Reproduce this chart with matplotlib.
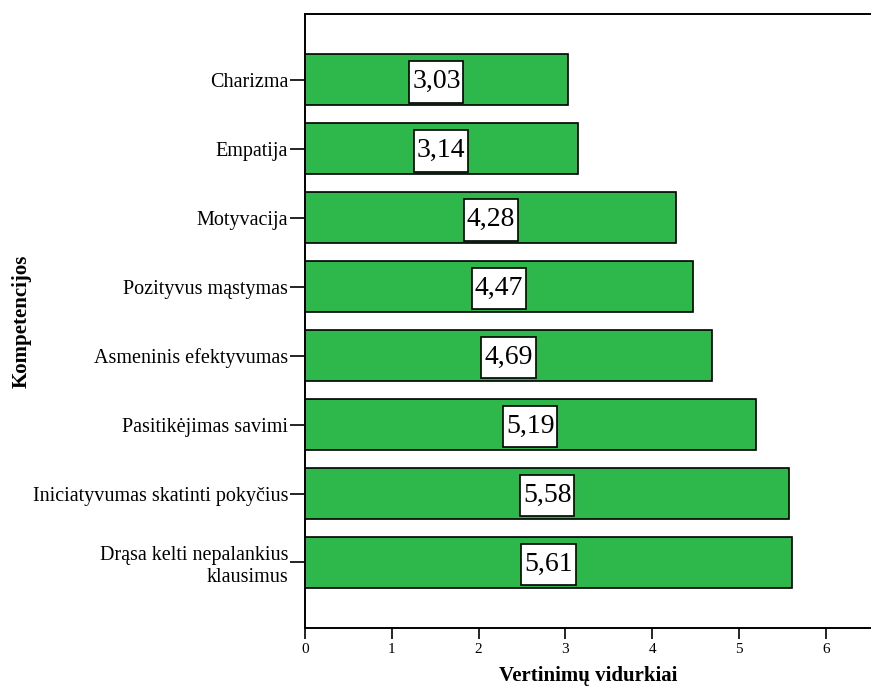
import matplotlib
matplotlib.use("agg")
import matplotlib.pyplot as plt
from matplotlib.path import Path

plt.rcParams["font.family"] = ["Liberation Serif", "DejaVu Serif"]

competencies = [
    "Drąsa kelti nepalankius\nklausimus",
    "Iniciatyvumas skatinti pokyčius",
    "Pasitikėjimas savimi",
    "Asmeninis efektyvumas",
    "Pozityvus mąstymas",
    "Motyvacija",
    "Empatija",
    "Charizma",
]
means = [5.61, 5.58, 5.19, 4.69, 4.47, 4.28, 3.14, 3.03]
x_ticks = [0, 1, 2, 3, 4, 5, 6]


def tall_box(x0, y0, width, height, mutation_size):
    # rectangle with more room above/below the number than at the sides
    px = 0.1 * mutation_size
    py = 0.3 * mutation_size
    x1, y1 = x0 + width + px, y0 + height + py
    x0, y0 = x0 - px, y0 - py
    return Path([(x0, y0), (x1, y0), (x1, y1), (x0, y1), (x0, y0)],
                closed=True)


fig = plt.figure(figsize=(8.71, 6.89), dpi=100)
ax = fig.add_axes([0.350, 0.0885, 0.65, 0.891])

pos = list(range(len(means)))
ax.barh(pos, means, height=0.74, color="#2eb84c", edgecolor="black", linewidth=1.2)

for y, v in zip(pos, means):
    ax.text(v / 2, y - 0.03, f"{v:.2f}".replace(".", ","), ha="center",
            va="center", fontsize=20,
            bbox=dict(boxstyle=tall_box, facecolor="white",
                      edgecolor="black", linewidth=1.2))

ax.set_xlim(0, 6.52)
ax.set_ylim(-0.95, 7.95)
ax.set_yticks(pos)
ax.set_yticklabels(competencies, fontsize=14.5, linespacing=1.2)
ax.set_xticks(x_ticks)
ax.set_xticklabels([str(t) for t in x_ticks], fontsize=11)
ax.tick_params(axis="y", length=11, width=1.2, pad=1)
ax.tick_params(axis="x", length=8, width=1.2, pad=3)

ax.spines["right"].set_visible(False)
for s in ("left", "top", "bottom"):
    ax.spines[s].set_linewidth(1.4)

ax.set_xlabel("Vertinimų vidurkiai", fontsize=15, fontweight="bold", labelpad=7)
ax.set_ylabel("Kompetencijos", fontsize=15, fontweight="bold")
ax.yaxis.set_label_coords(-0.483, 0.5)

fig.savefig("out.png", dpi=100, facecolor="white")
